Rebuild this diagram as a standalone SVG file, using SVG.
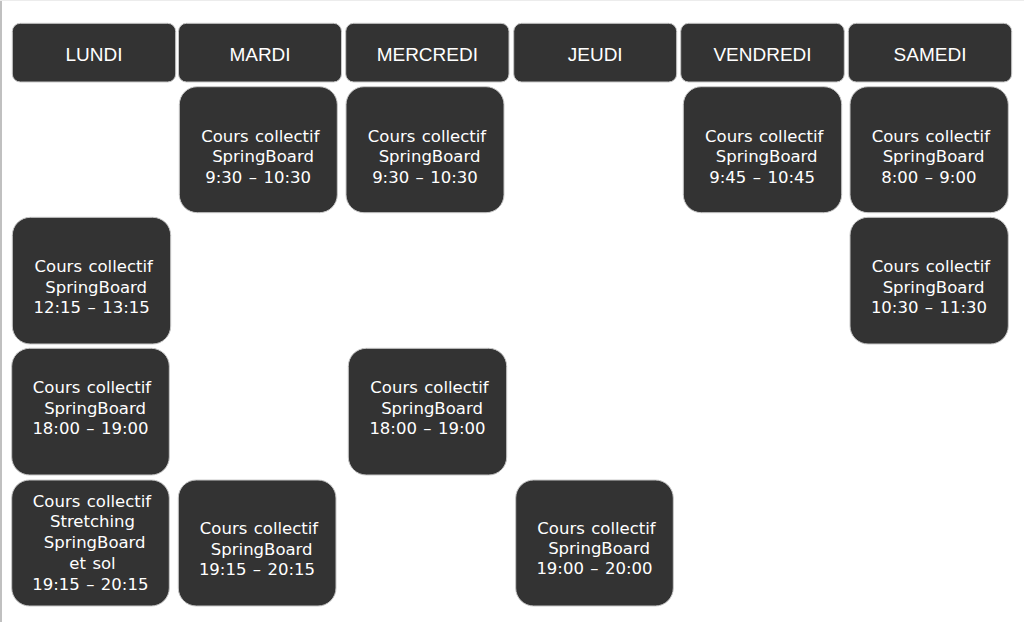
<svg xmlns="http://www.w3.org/2000/svg" width="1024" height="622" viewBox="0 0 1024 622">
<style>
.hd{fill:#333333;stroke:#c8c8c8;stroke-width:1}
.cb{fill:#333333;stroke:#c8c8c8;stroke-width:1}
.ht{fill:#ffffff;font-family:"Liberation Sans",Arial,sans-serif;font-size:19px;text-anchor:middle}
.ct{fill:#ffffff;font-family:"DejaVu Sans",Verdana,sans-serif;font-size:16.5px;text-anchor:middle;word-spacing:1.2px}
</style>
<rect x="0" y="0" width="1024" height="622" fill="#ffffff"/>
<line x1="1" y1="0" x2="1" y2="622" stroke="#c0c0c0" stroke-width="2"/>
<line x1="0" y1="0.5" x2="1024" y2="0.5" stroke="#ececec" stroke-width="1"/>
<g id="headers">
<g id="h-lundi"><rect class="hd" x="12.3" y="23.3" width="163.4" height="58.7" rx="8"/><text class="ht" x="94" y="60.5">LUNDI</text></g>
<g id="h-mardi"><rect class="hd" x="178.5" y="23.3" width="163" height="58.7" rx="8"/><text class="ht" x="260" y="60.5">MARDI</text></g>
<g id="h-mercredi"><rect class="hd" x="345.7" y="23.3" width="163.3" height="58.7" rx="8"/><text class="ht" x="427.3" y="60.5">MERCREDI</text></g>
<g id="h-jeudi"><rect class="hd" x="513.7" y="23.3" width="163" height="58.7" rx="8"/><text class="ht" x="595.2" y="60.5">JEUDI</text></g>
<g id="h-vendredi"><rect class="hd" x="680.7" y="23.3" width="163.6" height="58.7" rx="8"/><text class="ht" x="762.5" y="60.5">VENDREDI</text></g>
<g id="h-samedi"><rect class="hd" x="848.3" y="23.3" width="163.4" height="58.7" rx="8"/><text class="ht" x="930" y="60.5">SAMEDI</text></g>
</g>
<g id="courses">
<g id="c-mardi-1"><rect class="cb" x="179.3" y="86.7" width="158" height="126" rx="18"/>
<text class="ct" x="260.3" y="142">Cours collectif</text><text class="ct" x="263" y="162.3">SpringBoard</text><text class="ct" x="258.2" y="182.5">9:30 – 10:30</text></g>
<g id="c-mercredi-1"><rect class="cb" x="346" y="86.7" width="158" height="126" rx="18"/>
<text class="ct" x="427" y="142">Cours collectif</text><text class="ct" x="429.5" y="162.3">SpringBoard</text><text class="ct" x="425" y="182.5">9:30 – 10:30</text></g>
<g id="c-vendredi-1"><rect class="cb" x="683.3" y="86.7" width="158.4" height="126" rx="18"/>
<text class="ct" x="764.2" y="142">Cours collectif</text><text class="ct" x="766.7" y="162.3">SpringBoard</text><text class="ct" x="762.2" y="182.5">9:45 – 10:45</text></g>
<g id="c-samedi-1"><rect class="cb" x="850" y="86.7" width="158.3" height="126" rx="18"/>
<text class="ct" x="930.8" y="142">Cours collectif</text><text class="ct" x="933.5" y="162.3">SpringBoard</text><text class="ct" x="928.8" y="182.5">8:00 – 9:00</text></g>
<g id="c-lundi-2"><rect class="cb" x="12.3" y="217.3" width="158.4" height="126.7" rx="18"/>
<text class="ct" x="93.7" y="272.3">Cours collectif</text><text class="ct" x="96.2" y="292.5">SpringBoard</text><text class="ct" x="91.7" y="312.5">12:15 – 13:15</text></g>
<g id="c-samedi-2"><rect class="cb" x="850" y="217.3" width="158.3" height="126.7" rx="18"/>
<text class="ct" x="931" y="272.3">Cours collectif</text><text class="ct" x="933.5" y="292.5">SpringBoard</text><text class="ct" x="929" y="312.5">10:30 – 11:30</text></g>
<g id="c-lundi-3"><rect class="cb" x="11.7" y="348.3" width="157.6" height="126.7" rx="18"/>
<text class="ct" x="92" y="393.3">Cours collectif</text><text class="ct" x="95" y="413.8">SpringBoard</text><text class="ct" x="90.5" y="434">18:00 – 19:00</text></g>
<g id="c-mercredi-3"><rect class="cb" x="348.3" y="348.3" width="158.4" height="126.7" rx="18"/>
<text class="ct" x="429.5" y="393.3">Cours collectif</text><text class="ct" x="432" y="413.8">SpringBoard</text><text class="ct" x="427.5" y="434">18:00 – 19:00</text></g>
<g id="c-lundi-4"><rect class="cb" x="11.7" y="480" width="157.6" height="126" rx="18"/>
<text class="ct" x="92" y="506.7">Cours collectif</text><text class="ct" x="92.5" y="527.4">Stretching</text><text class="ct" x="94.7" y="548.1">SpringBoard</text><text class="ct" x="92.5" y="568.8">et sol</text><text class="ct" x="90.3" y="589.5">19:15 – 20:15</text></g>
<g id="c-mardi-4"><rect class="cb" x="178.3" y="480" width="157.7" height="126" rx="18"/>
<text class="ct" x="259" y="534">Cours collectif</text><text class="ct" x="261.7" y="554.5">SpringBoard</text><text class="ct" x="257" y="575">19:15 – 20:15</text></g>
<g id="c-jeudi-4"><rect class="cb" x="515.7" y="480" width="157.6" height="126" rx="18"/>
<text class="ct" x="596.5" y="533.7">Cours collectif</text><text class="ct" x="599" y="554">SpringBoard</text><text class="ct" x="594.5" y="574.3">19:00 – 20:00</text></g>
</g>
<g id="connectors"/>
</svg>
